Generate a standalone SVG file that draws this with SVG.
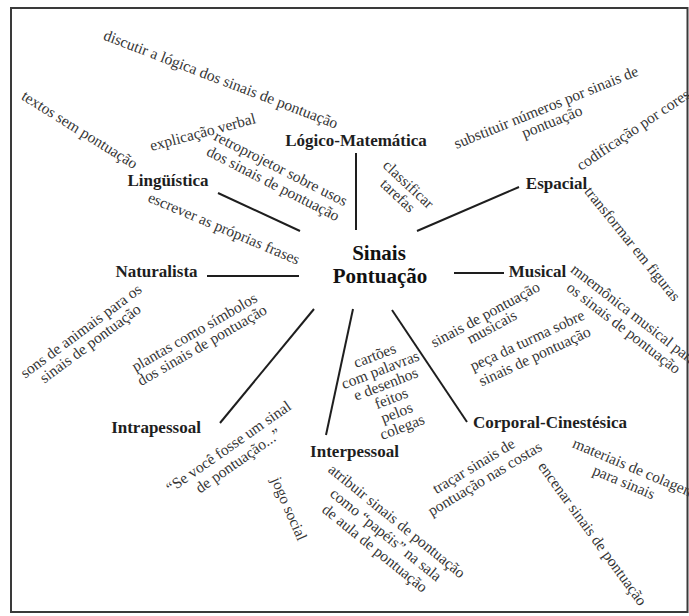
<svg xmlns="http://www.w3.org/2000/svg" width="689" height="616" viewBox="0 0 689 616">
<style>
.lbl{font-family:"Liberation Serif","Times New Roman",serif;font-weight:bold;font-size:17px;fill:#1e1e1e;text-anchor:middle}
.ctr{font-family:"Liberation Serif","Times New Roman",serif;font-weight:bold;font-size:21px;fill:#111;text-anchor:middle}
.ann{font-family:"Liberation Serif","Times New Roman",serif;font-size:15.5px;fill:#363636;text-anchor:middle}
.st{text-anchor:start}
.con line{stroke:#1e1e1e;stroke-width:2;stroke-linecap:butt}
</style>
<rect x="0" y="0" width="689" height="616" fill="#fff"/>
<rect x="11" y="8" width="676.5" height="604" fill="none" stroke="#3a3a3a" stroke-width="2"/>
<g id="connectors" class="con">
<line x1="356" y1="153" x2="356" y2="230"/>
<line x1="218" y1="193" x2="300" y2="231"/>
<line x1="417" y1="231" x2="519" y2="187"/>
<line x1="207" y1="276" x2="299" y2="276"/>
<line x1="454" y1="273" x2="504" y2="273"/>
<line x1="314" y1="309" x2="220" y2="423"/>
<line x1="353" y1="309" x2="326" y2="435"/>
<line x1="392" y1="310" x2="467" y2="422"/>
</g>
<g id="center">
<text class="ctr" x="379" y="260">Sinais</text>
<text class="ctr" x="380" y="283">Pontuação</text>
</g>
<g id="logico-matematica">
<text class="lbl" x="356" y="146">Lógico-Matemática</text>
<text class="ann" transform="translate(219,84) rotate(21)">discutir a lógica dos sinais de pontuação</text>
<text class="ann" transform="translate(405,188) rotate(43)"><tspan x="0" y="0">classificar</tspan><tspan x="0" dy="15.5">tarefas</tspan></text>
<text class="ann" transform="translate(548,112) rotate(-22)"><tspan x="0" y="0">substituir números por sinais de</tspan><tspan x="0" dy="15.5">pontuação</tspan></text>
</g>
<g id="linguistica">
<text class="lbl" x="168" y="186">Lingüística</text>
<text class="ann" transform="translate(77,134) rotate(32)">textos sem pontuação</text>
<text class="ann" transform="translate(204,137) rotate(-15)">explicação verbal</text>
<text class="ann" transform="translate(278.5,173) rotate(27)"><tspan x="0" y="0">retroprojetor sobre usos</tspan><tspan x="0" dy="17">dos sinais de pontuação</tspan></text>
<text class="ann" transform="translate(222,233) rotate(23)">escrever as próprias frases</text>
</g>
<g id="espacial">
<text class="lbl" x="556.5" y="189">Espacial</text>
<text class="ann st" transform="translate(581,171) rotate(-34)">codificação por cores</text>
<text class="ann" transform="translate(628.5,247) rotate(51)">transformar em figuras</text>
</g>
<g id="naturalista">
<text class="lbl" x="156.5" y="277">Naturalista</text>
<text class="ann" transform="translate(84,335) rotate(-36.6)"><tspan x="0" y="0">sons de animais para os</tspan><tspan x="0" dy="15.5">sinais de pontuação</tspan></text>
<text class="ann" transform="translate(197,336.5) rotate(-30)"><tspan x="0" y="0">plantas como símbolos</tspan><tspan x="0" dy="15">dos sinais de pontuação</tspan></text>
</g>
<g id="musical">
<text class="lbl" x="537.5" y="277">Musical</text>
<text class="ann" transform="translate(631,318.6) rotate(37.7)"><tspan x="0" y="0">mnemônica musical para</tspan><tspan x="0" dy="17">os sinais de pontuação</tspan></text>
<text class="ann" transform="translate(487.6,319) rotate(-28.4)"><tspan x="0" y="0">sinais de pontuação</tspan><tspan x="0" dy="14">musicais</tspan></text>
<text class="ann" transform="translate(529.4,345) rotate(-25)"><tspan x="0" y="0">peça da turma sobre</tspan><tspan x="0" dy="17.5">sinais de pontuação</tspan></text>
</g>
<g id="intrapessoal">
<text class="lbl" x="156" y="433">Intrapessoal</text>
<text class="ann" transform="translate(231.5,451) rotate(-35)"><tspan x="0" y="0">“Se você fosse um sinal</tspan><tspan x="0" dy="17">de pontuação...”</tspan></text>
</g>
<g id="interpessoal">
<text class="lbl" x="354.5" y="457">Interpessoal</text>
<text class="ann" transform="translate(376.6,360.2) rotate(-21)"><tspan x="0" y="0">cartões</tspan><tspan x="0" dy="15.3">com palavras</tspan><tspan x="0" dy="15.3">e desenhos</tspan><tspan x="0" dy="15.3">feitos</tspan><tspan x="0" dy="15.3">pelos</tspan><tspan x="0" dy="15.3">colegas</tspan></text>
<text class="ann" transform="translate(284.4,510.8) rotate(66.5)">jogo social</text>
<text class="ann" transform="translate(393.7,525) rotate(39)"><tspan x="0" y="0">atribuir sinais de pontuação</tspan><tspan x="0" dy="17.5">como “papéis” na sala</tspan><tspan x="0" dy="17.5">de aula de pontuação</tspan></text>
</g>
<g id="corporal-cinestesica">
<text class="lbl" x="550" y="428">Corporal-Cinestésica</text>
<text class="ann" transform="translate(476.3,470.4) rotate(-31)"><tspan x="0" y="0">traçar sinais de</tspan><tspan x="3" dy="16.5">pontuação nas costas</tspan></text>
<text class="ann" transform="translate(632.3,472.6) rotate(22.8)"><tspan x="0" y="0">materiais de colagem</tspan><tspan x="-4" dy="17">para sinais</tspan></text>
<text class="ann" transform="translate(588.4,536.6) rotate(54)">encenar sinais de pontuação</text>
</g>
</svg>
